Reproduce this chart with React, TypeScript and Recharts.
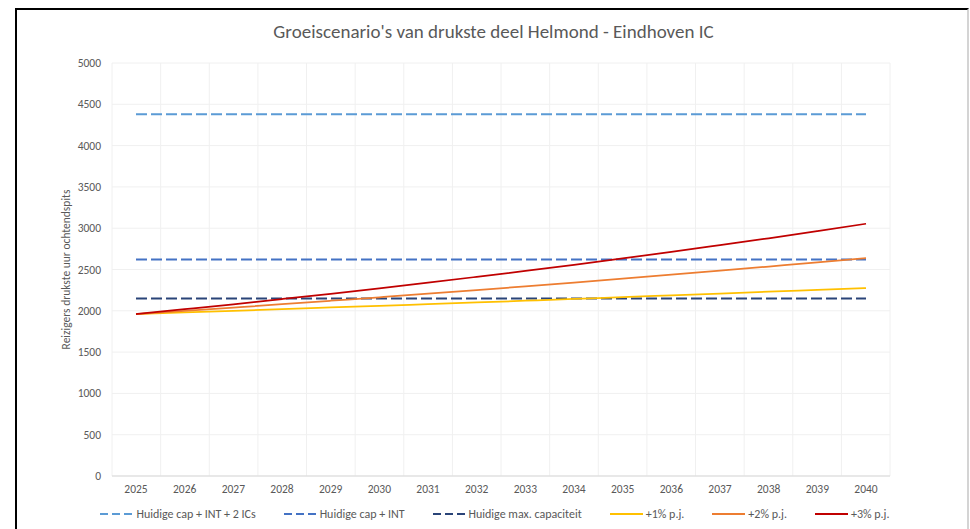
import { CartesianGrid, Legend, Line, LineChart, XAxis, YAxis } from "recharts";

const years = ["2025", "2026", "2027", "2028", "2029", "2030", "2031", "2032", "2033", "2034", "2035", "2036", "2037", "2038", "2039", "2040"];

const capIntTwoIcs = [4380, 4380, 4380, 4380, 4380, 4380, 4380, 4380, 4380, 4380, 4380, 4380, 4380, 4380, 4380, 4380];
const capInt = [2620, 2620, 2620, 2620, 2620, 2620, 2620, 2620, 2620, 2620, 2620, 2620, 2620, 2620, 2620, 2620];
const maxCap = [2150, 2150, 2150, 2150, 2150, 2150, 2150, 2150, 2150, 2150, 2150, 2150, 2150, 2150, 2150, 2150];
const plusOne = [1960, 1980, 1999, 2019, 2040, 2060, 2080, 2101, 2122, 2144, 2165, 2187, 2209, 2231, 2253, 2275];
const plusTwo = [1960, 1999, 2039, 2080, 2122, 2164, 2207, 2251, 2296, 2342, 2389, 2437, 2486, 2536, 2586, 2638];
const plusThree = [1960, 2019, 2079, 2142, 2206, 2272, 2340, 2411, 2483, 2557, 2634, 2713, 2795, 2878, 2965, 3054];

const yTicks = [0, 500, 1000, 1500, 2000, 2500, 3000, 3500, 4000, 4500, 5000];

const series = [
  { key: "capIntTwoIcs", name: "Huidige cap + INT + 2 ICs", color: "#5b9bd5", dash: "11 4" },
  { key: "capInt", name: "Huidige cap + INT", color: "#4472c4", dash: "11 4" },
  { key: "maxCap", name: "Huidige max. capaciteit", color: "#2a4478", dash: "11 4" },
  { key: "plusOne", name: "+1% p.j.", color: "#ffc000", dash: undefined },
  { key: "plusTwo", name: "+2% p.j.", color: "#ed7d31", dash: undefined },
  { key: "plusThree", name: "+3% p.j.", color: "#c00000", dash: undefined }
];

const data = years.map((year, i) => ({
  year,
  capIntTwoIcs: capIntTwoIcs[i],
  capInt: capInt[i],
  maxCap: maxCap[i],
  plusOne: plusOne[i],
  plusTwo: plusTwo[i],
  plusThree: plusThree[i]
}));

const font = "Carlito, Calibri, 'Liberation Sans', sans-serif";
const textColor = "#595959";

function LegendRow() {
  return (
    <div style={{ display: "flex", justifyContent: "center", gap: 28, fontFamily: font, fontSize: 12, color: textColor }}>
      {series.map((s) => (
        <div key={s.key} style={{ display: "flex", alignItems: "center", gap: 3 }}>
          <svg height={6} width={33}>
            <line stroke={s.color} strokeDasharray={s.dash ? "8 4" : undefined} strokeWidth={2} x1={0} x2={33} y1={3} y2={3} />
          </svg>
          <span>{s.name}</span>
        </div>
      ))}
    </div>
  );
}

export default function App() {
  return (
    <div style={{ position: "absolute", left: 0, top: 0, width: 970, height: 529, background: "#fff", overflow: "hidden" }}>
      <div
        style={{
          position: "absolute",
          left: 15,
          top: 8,
          width: 950,
          height: 540,
          borderTop: "2px solid #000",
          borderLeft: "2px solid #000",
          borderRight: "2px solid #d4d4d4"
        }}
      />
      <div
        style={{
          position: "absolute",
          left: 0,
          top: 20,
          width: 987,
          textAlign: "center",
          fontFamily: font,
          fontSize: 19,
          color: textColor
        }}
      >
        Groeiscenario's van drukste deel Helmond - Eindhoven IC
      </div>
      <LineChart data={data} height={529} margin={{ bottom: 23, left: 50, right: 80, top: 63 }} style={{ position: "absolute", left: 0, top: 0 }} width={970}>
        <CartesianGrid
          stroke="#f0f0f0"
          verticalCoordinatesGenerator={({ offset }: any) =>
            Array.from({ length: years.length + 1 }, (_, i) => offset.left + (i * offset.width) / years.length)
          }
        />
        <XAxis
          axisLine={{ stroke: "#d9d9d9" }}
          dataKey="year"
          height={30}
          interval={0}
          padding={{ left: 24, right: 24 }}
          tick={{ fill: textColor, fontSize: 11.5, fontFamily: font }}
          tickLine={false}
          tickMargin={9}
          tickSize={0}
        />
        <YAxis
          axisLine={false}
          domain={[0, 5000]}
          label={{ value: "Reizigers drukste uur ochtendspits", angle: -90, position: "center", dx: -15, style: { fill: textColor, fontSize: 11.5, fontFamily: font } }}
          tick={{ fill: textColor, fontSize: 11.5, fontFamily: font }}
          tickLine={false}
          tickMargin={11}
          tickSize={0}
          ticks={yTicks}
          type="number"
          width={62}
        />
        <Legend
          content={() => <LegendRow />}
          layout="horizontal"
          verticalAlign="middle"
          wrapperStyle={{ top: 507, left: 95, width: 800, height: 16 }}
        />
        {series.map((s) => (
          <Line
            dataKey={s.key}
            dot={false}
            isAnimationActive={false}
            key={s.key}
            name={s.name}
            stroke={s.color}
            strokeDasharray={s.dash}
            strokeWidth={s.dash ? 2 : 1.75}
            type="monotone"
          />
        ))}
      </LineChart>
    </div>
  );
}
